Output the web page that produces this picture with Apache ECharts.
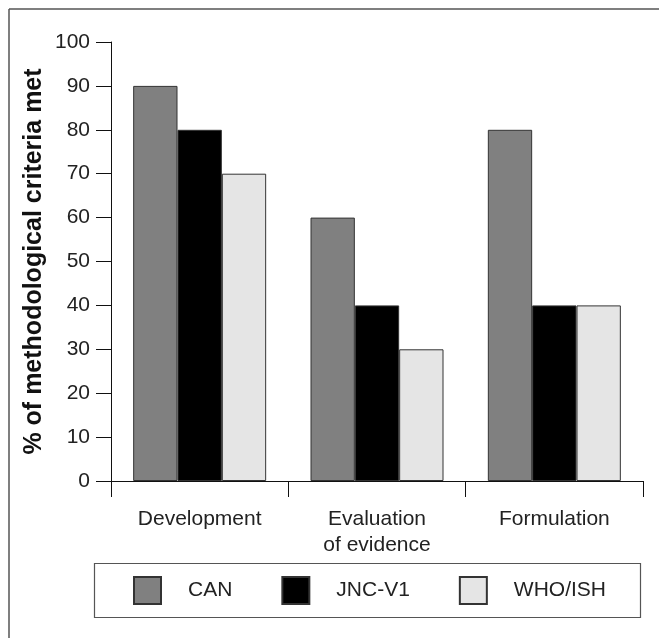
<!DOCTYPE html>
<html>
<head>
<meta charset="utf-8">
<script src="https://cdn.jsdelivr.net/npm/echarts@6/dist/echarts.min.js"></script>
<style>
html,body{margin:0;padding:0;background:#fff;}
#main{width:659px;height:638px;}
</style>
</head>
<body>
<div id="main"></div>
<script>
const categories = ['Development', 'Evaluation\nof evidence', 'Formulation'];
const seriesNames = ['CAN', 'JNC-V1', 'WHO/ISH'];
const canValues = [90, 60, 80];
const jncValues = [80, 40, 40];
const whoValues = [70, 30, 40];
const yTicks = [0, 10, 20, 30, 40, 50, 60, 70, 80, 90, 100];
const colors = ['#808080', '#000000', '#e5e5e5'];

const FONT = 'Liberation Sans, Arial, sans-serif';
const chart = echarts.init(document.getElementById('main'));
const allValues = [canValues, jncValues, whoValues];

chart.setOption({
  animation: false,
  backgroundColor: '#ffffff',
  grid: { left: 111, right: 16, top: 42, bottom: 157, containLabel: false },
  legend: {
    left: 133, top: 576, padding: 0,
    itemWidth: 27, itemHeight: 27, itemGap: 49,
    icon: 'rect',
    data: seriesNames,
    textStyle: { fontFamily: FONT, fontSize: 21, color: '#222', padding: [0, 0, 0, 22] }
  },
  xAxis: {
    type: 'category',
    data: categories,
    boundaryGap: true,
    axisLine: { lineStyle: { color: '#111', width: 1 } },
    axisTick: { show: true, length: 16, lineStyle: { color: '#111' } },
    axisLabel: { fontFamily: FONT, fontSize: 21, color: '#222', margin: 25, lineHeight: 26, interval: 0 }
  },
  yAxis: {
    type: 'value',
    min: yTicks[0], max: yTicks[yTicks.length - 1], interval: 10,
    name: '% of methodological criteria met',
    nameLocation: 'middle',
    nameGap: 64,
    nameMoveOverlap: false,
    nameTextStyle: { fontFamily: FONT, fontSize: 25, fontWeight: 'bold', color: '#111' },
    axisLine: { show: true, lineStyle: { color: '#111', width: 1 } },
    axisTick: { show: true, length: 15, lineStyle: { color: '#111' } },
    splitLine: { show: false },
    axisLabel: { fontFamily: FONT, fontSize: 21, color: '#222', margin: 21 }
  },
  series: seriesNames.map((name, i) => ({
    name: name,
    type: 'bar',
    data: allValues[i],
    barGap: '0%',
    barCategoryGap: '25%',
    itemStyle: { color: colors[i], borderColor: '#333', borderWidth: 1 }
  })),
  graphic: [
    { type: 'line', shape: { x1: 9, y1: 9, x2: 659, y2: 9 }, style: { stroke: '#555', lineWidth: 1.5 } },
    { type: 'line', shape: { x1: 9, y1: 9, x2: 9, y2: 638 }, style: { stroke: '#555', lineWidth: 1.5 } },
    { type: 'rect', shape: { x: 94.5, y: 563.5, width: 546, height: 54 }, style: { fill: 'none', stroke: '#555', lineWidth: 1.2 }, z: -1 }
  ]
});
</script>
</body>
</html>
